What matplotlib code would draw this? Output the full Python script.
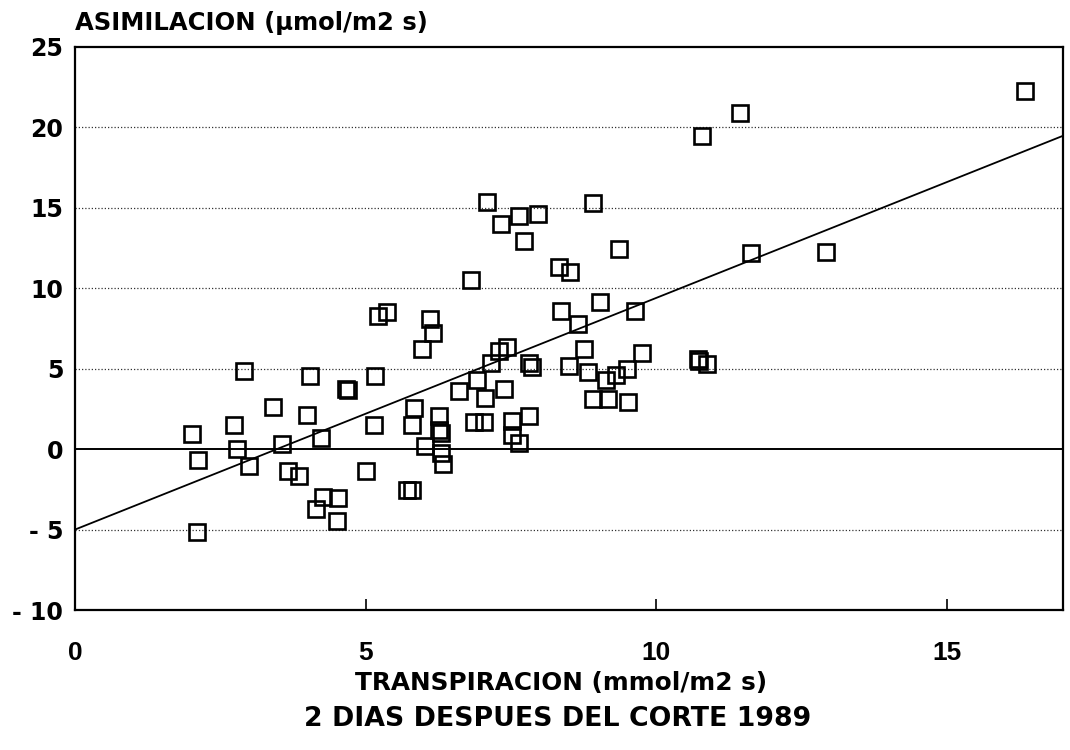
import matplotlib
matplotlib.use("Agg")
import matplotlib.pyplot as plt
import numpy as np

# Transpiration (mmol/m2 s) and assimilation (umol/m2 s) per leaf measurement
transpiracion = [
    2.10, 2.02, 2.12, 2.74, 2.79, 2.91, 3.00, 3.40, 3.57, 3.66,
    3.86, 4.00, 4.05, 4.14, 4.24, 4.26, 4.53, 4.50, 4.67, 4.70,
    5.00, 5.14, 5.16, 5.21, 5.36, 5.72, 5.80, 5.79, 5.84, 5.97,
    6.02, 6.10, 6.16, 6.26, 6.26, 6.30, 6.29, 6.33, 6.60, 6.81,
    6.86, 6.91, 7.03, 7.05, 7.09, 7.16, 7.29, 7.33, 7.38, 7.43,
    7.52, 7.52, 7.64, 7.64, 7.72, 7.81, 7.81, 7.86, 7.97, 8.33,
    8.36, 8.50, 8.52, 8.66, 8.76, 8.83, 8.91, 8.91, 9.03, 9.14,
    9.17, 9.31, 9.36, 9.50, 9.52, 9.64, 9.76, 10.72, 10.74, 10.88,
    10.79, 11.45, 11.64, 12.93, 16.35,
]
asimilacion = [
    -5.13, 0.97, -0.65, 1.47, -0.02, 4.83, -1.02, 2.65, 0.29, -1.33,
    -1.64, 2.15, 4.52, -3.70, 0.72, -2.96, -3.03, -4.45, 3.71, 3.65,
    -1.33, 1.53, 4.52, 8.25, 8.50, -2.51, -2.55, 1.47, 2.53, 6.20,
    0.22, 8.06, 7.20, 2.09, 1.16, 1.00, -0.21, -0.90, 3.59, 10.50,
    1.66, 4.27, 1.66, 3.21, 15.34, 5.38, 6.13, 14.00, 3.71, 6.38,
    1.72, 0.85, 0.41, 14.50, 12.93, 2.09, 5.33, 5.10, 14.60, 11.30,
    8.56, 5.14, 11.00, 7.80, 6.24, 4.77, 15.28, 3.09, 9.12, 4.27,
    3.09, 4.64, 12.47, 4.96, 2.90, 8.56, 5.98, 5.62, 5.50, 5.31,
    19.46, 20.90, 12.20, 12.26, 22.26,
]

# Fitted regression line
reg_intercept = -5.0
reg_slope = 1.44

x_ticks = [0, 5, 10, 15]
y_ticks = [-10, -5, 0, 5, 10, 15, 20, 25]
y_tick_labels = ["- 10", "- 5", "0", "5", "10", "15", "20", "25"]
grid_levels = [-5, 5, 10, 15, 20]

WIDE = ["DejaVu Sans"]
NARROW = ["Liberation Sans", "DejaVu Sans"]

fig = plt.figure(figsize=(10.7, 7.5), dpi=100)
ax = fig.add_axes([75 / 1070, 1 - 610 / 750, (1063 - 75) / 1070, (610 - 47) / 750])

ax.set_xlim(0, 17)
ax.set_ylim(-10, 25)

for g in grid_levels:
    ax.axhline(g, color="#333333", lw=0.9, ls=(0, (1, 1.6)), zorder=1)
ax.axhline(0, color="black", lw=1.4, zorder=2)

xl = np.array([0, 17])
ax.plot(xl, reg_intercept + reg_slope * xl, color="black", lw=1.3, zorder=3)

ax.plot(transpiracion, asimilacion, ls="none", marker="s", ms=11.5,
        mfc="none", mec="black", mew=1.9, zorder=4)

for s in ax.spines.values():
    s.set_linewidth(1.6)
    s.set_color("black")

ax.set_xticks(x_ticks)
ax.set_xticklabels([str(t) for t in x_ticks], family=NARROW, fontsize=19,
                   fontweight="bold")
ax.set_yticks(y_ticks)
ax.set_yticklabels(y_tick_labels, family=WIDE, fontsize=17, fontweight="bold")
ax.tick_params(axis="x", direction="in", length=8, width=1.2, pad=22)
ax.tick_params(axis="y", direction="in", length=0, pad=8.5)

fig.text(75 / 1070, 1 - 23 / 750, "ASIMILACION (µmol/m2 s)", fontsize=17.5,
         fontweight="bold", family=WIDE, ha="left", va="center")
fig.text(561 / 1070, 1 - 683 / 750, "TRANSPIRACION (mmol/m2 s)", fontsize=17.8,
         fontweight="bold", family=WIDE, ha="center", va="center")
fig.text(558 / 1070, 1 - 719 / 750, "2 DIAS DESPUES DEL CORTE 1989", fontsize=19.3,
         fontweight="bold", family=WIDE, ha="center", va="center")

fig.savefig("out.png", dpi=100, facecolor="white")
